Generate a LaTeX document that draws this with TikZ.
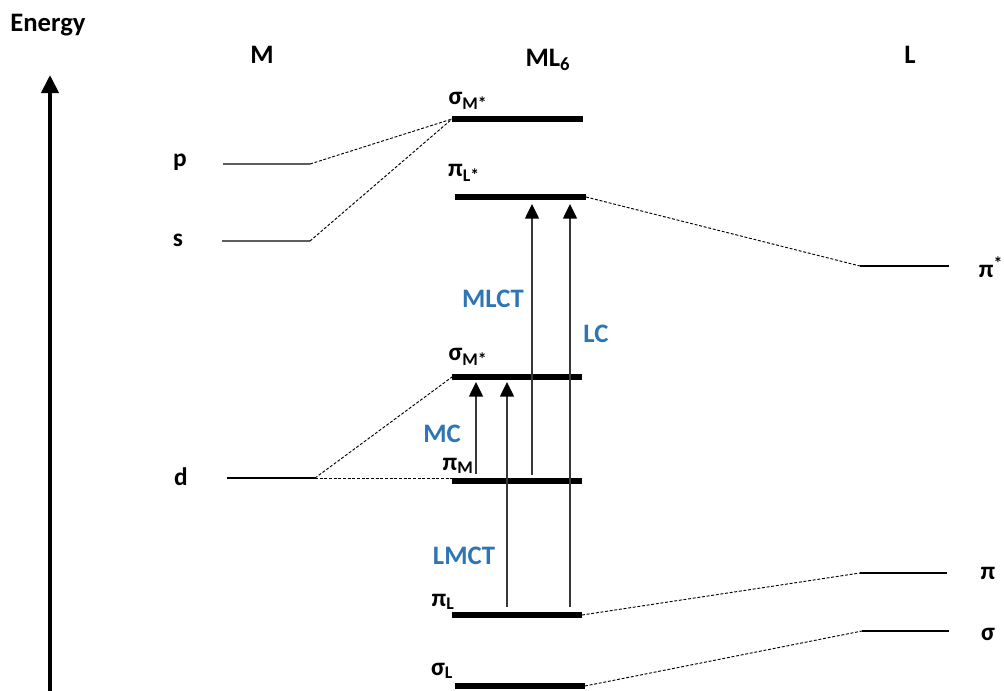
\documentclass[tikz,border=0pt]{standalone}
\usepackage{fontspec}
\setmainfont{Carlito}
\usetikzlibrary{arrows.meta}
\definecolor{lblblue}{RGB}{46,117,182}
\definecolor{lvlgray}{RGB}{95,95,95}
\definecolor{arrgray}{RGB}{55,55,55}
\tikzset{
  txt/.style={font=\bfseries\fontsize{19}{21}\selectfont, inner sep=0pt},
  head/.style={font=\bfseries\fontsize{20}{22}\selectfont, inner sep=0pt},
  blue label/.style={font=\bfseries\fontsize{20}{22}\selectfont, text=lblblue, inner sep=0pt},
  mlevel/.style={line width=1.3pt, lvlgray},
  blevel/.style={line width=1.5pt, black},
  cplevel/.style={line width=3.8pt, black},
  corr/.style={line width=0.7pt, dash pattern=on 2.2pt off 1.3pt},
  trans/.style={line width=1.1pt, arrgray, -{Triangle[length=11pt,width=10.5pt,color=black]}},
}
\begin{document}
\begin{tikzpicture}[x=0.75pt,y=-0.75pt]
\useasboundingbox (0,0) rectangle (1004,690);
% energy axis
\coordinate (eb) at (50,692);
\coordinate (et) at (50,75);
\draw[line width=3pt, -{Triangle[length=13.5pt,width=12.75pt]}] (eb) -- (et);
\node[head] (energy) at (48,25) {Energy};
% column headings
\node[head] (hM) at (262,55) {M};
\node[head] (hML) at (548,60) {ML\textsubscript{6}};
\node[head] (hL) at (910,55) {L};
% metal levels
\coordinate (pl) at (223,164); \coordinate (pr) at (310,164);
\coordinate (sl) at (222,241); \coordinate (sr) at (310,241);
\coordinate (dl) at (227,478); \coordinate (dr) at (315,478);
\draw[mlevel] (pl) -- (pr);
\draw[mlevel] (sl) -- (sr);
\draw[blevel] (dl) -- (dr);
\node[txt] (lp) at (180,162) {p};
\node[txt] (ls) at (178,240) {s};
\node[txt] (ld) at (181,477) {d};
% complex levels
\coordinate (a1) at (452,119); \coordinate (a2) at (583,119);
\coordinate (b1) at (455,197); \coordinate (b2) at (586,197);
\coordinate (c1) at (452,377); \coordinate (c2) at (582,377);
\coordinate (d1) at (452,481); \coordinate (d2) at (582,481);
\coordinate (e1) at (452,615); \coordinate (e2) at (582,615);
\coordinate (f1) at (455,686); \coordinate (f2) at (585,686);
\draw[cplevel] (a1) -- (a2);
\draw[cplevel] (b1) -- (b2);
\draw[cplevel] (c1) -- (c2);
\draw[cplevel] (d1) -- (d2);
\draw[cplevel] (e1) -- (e2);
\draw[cplevel] (f1) -- (f2);
\node[txt] (la) at (468,101) {σ\textsubscript{M*}};
\node[txt] (lb) at (464,173) {π\textsubscript{L*}};
\node[txt] (lc) at (468,357) {σ\textsubscript{M*}};
\node[txt] (ldm) at (458,466) {π\textsubscript{M}};
\node[txt] (le) at (443,602) {π\textsubscript{L}};
\node[txt] (lf) at (442,671) {σ\textsubscript{L}};
% ligand levels
\coordinate (g1) at (860,266); \coordinate (g2) at (949,266);
\coordinate (h1) at (860,573); \coordinate (h2) at (947,573);
\coordinate (i1) at (862,631); \coordinate (i2) at (949,631);
\draw[blevel] (g1) -- (g2);
\draw[blevel] (h1) -- (h2);
\draw[blevel] (i1) -- (i2);
\node[txt] (lg) at (991,267) {π\textsuperscript{*}};
\node[txt] (lh) at (988,573) {π};
\node[txt] (li) at (988,634) {σ};
% correlation lines
\draw[corr] (pr) -- (a1);
\draw[corr] (sr) -- (a1);
\draw[corr] (b2) -- (g1);
\draw[corr] (dr) -- (c1);
\coordinate (dend) at (530,478);
\draw[corr] (dr) -- (dend);
\draw[corr] (e2) -- (h1);
\draw[corr] (f2) -- (i1);
% transitions
\coordinate (mc0) at (476,474); \coordinate (mc1) at (476,382);
\coordinate (lm0) at (507,607); \coordinate (lm1) at (507,382);
\coordinate (ml0) at (532,475); \coordinate (ml1) at (532,204);
\coordinate (lc0) at (570,607); \coordinate (lc1) at (570,204);
\draw[trans] (mc0) -- (mc1);
\draw[trans] (lm0) -- (lm1);
\draw[trans] (ml0) -- (ml1);
\draw[trans] (lc0) -- (lc1);
\node[blue label] (tMLCT) at (493,299) {MLCT};
\node[blue label] (tLC) at (596,334) {LC};
\node[blue label] (tMC) at (442,434) {MC};
\node[blue label] (tLMCT) at (464,556) {LMCT};
\end{tikzpicture}
\end{document}
